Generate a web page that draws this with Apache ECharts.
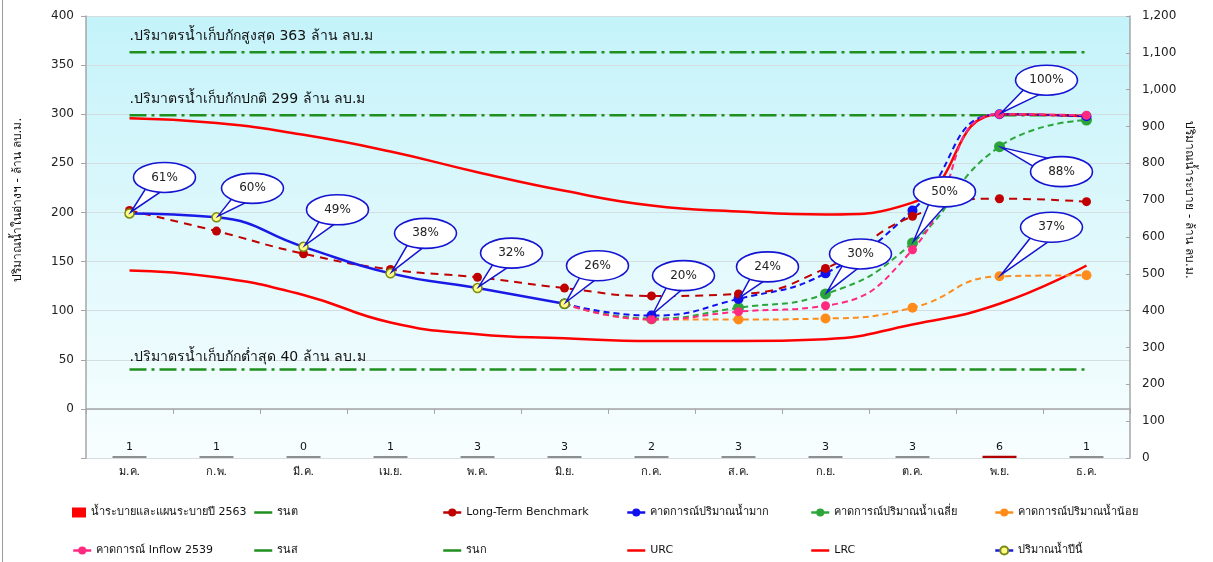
<!DOCTYPE html>
<html><head><meta charset="utf-8">
<script src="https://cdn.jsdelivr.net/npm/echarts@6/dist/echarts.min.js"></script>
<style>html,body{margin:0;padding:0;background:#fff}#c{width:1213px;height:562px}</style>
</head><body><div id="c"></div>
<script>
// ---- data ----
const months = ['ม.ค.','ก.พ.','มี.ค.','เม.ย.','พ.ค.','มิ.ย.','ก.ค.','ส.ค.','ก.ย.','ต.ค.','พ.ย.','ธ.ค.'];
const release2563 = [1,1,0,1,3,3,2,3,3,3,6,1];
const currentYear = [199,195,165,138,123,107,null,null,null,null,null,null];
const longTermBenchmark = [202,181,158,142,134,123,115,117,143,196,214,211];
const forecastHigh = [null,null,null,null,null,107,95,112,138,202,300,298];
const forecastAvg = [null,null,null,null,null,107,92,103,117,169,267,294];
const forecastLow = [null,null,null,null,null,107,91,91,92,103,135,136];
const inflow2539 = [null,null,null,null,null,107,91,99,105,162,300,299];
const urc = [296,291,279,262,241,222,207,201,198,210,300,298];
const lrc = [141,134,116,88,76,72,69,69,71,86,107,146];
const maxStorage = 363, normalStorage = 299, minStorage = 40;
const maxStorageText = '.ปริมาตรน้ำเก็บกักสูงสุด 363 ล้าน ลบ.ม';
const normalStorageText = '.ปริมาตรน้ำเก็บกักปกติ 299 ล้าน ลบ.ม';
const minStorageText = '.ปริมาตรน้ำเก็บกักต่ำสุด 40 ล้าน ลบ.ม';
const calloutLabels = ['61%','60%','49%','38%','32%','26%','20%','24%','30%','50%','100%','88%','37%'];
const calloutMonths = [0,1,2,3,4,5,6,7,8,9,10,10,10];
const calloutSource = ['current','current','current','current','current','current','high','high','avg','avg','high','avg','low'];

// ---- layout (not data) ----
const calloutOffsets = [[35,-36],[36,-29],[34,-37],[35,-40],[34,-35],[33,-38],[32,-40],[29,-32],[35,-40],[32,-51],[47,-34],[62,25],[52,-49]];
const legendRows = [
  ['น้ำระบายและแผนระบายปี 2563', 'รนต', 'Long-Term Benchmark', 'คาดการณ์ปริมาณน้ำมาก', 'คาดการณ์ปริมาณน้ำเฉลี่ย', 'คาดการณ์ปริมาณน้ำน้อย'],
  ['คาดการณ์ Inflow 2539', 'รนส', 'รนก', 'URC', 'LRC', 'ปริมาณน้ำปีนี้']
];
const legendCols = [67, 248, 437, 621, 805, 989];
const legendTops = [502, 540];

const FONT = 'Tahoma, Verdana, "DejaVu Sans", "Noto Sans", sans-serif';
const srcMap = {current: currentYear, high: forecastHigh, avg: forecastAvg, low: forecastLow};
const calloutData = calloutMonths.map((m, i) => [m, srcMap[calloutSource[i]][m]]);
const flat = v => months.map(() => v);
const CLEAR = 'rgba(0,0,0,0)';

const chart = echarts.init(document.getElementById('c'));

function refLine(name, value, text, dist) {
  return {
    name, type: 'line', yAxisIndex: 0, data: flat(value), symbol: 'circle', symbolSize: 1, showSymbol: true, z: 2,
    lineStyle: {color: '#1f8f1f', width: 2.5, type: [17, 5, 3, 5]},
    itemStyle: {color: CLEAR},
    label: {show: true, position: 'top', align: 'left', distance: dist, color: '#111', fontSize: 14, fontFamily: FONT,
      formatter: p => p.dataIndex === 0 ? text : ''},
    emphasis: {disabled: true}, labelLayout: {hideOverlap: false}
  };
}
function fcLine(name, data, color, size, z) {
  return {
    name, type: 'line', yAxisIndex: 0, data, smooth: true, symbol: 'circle', symbolSize: size, z,
    lineStyle: {color, width: 2, type: [6, 4]}, itemStyle: {color}
  };
}

const legends = [];
legendRows.forEach((row, r) => row.forEach((name, c) => {
  const isBar = r === 0 && c === 0;
  legends.push({
    left: legendCols[c], top: legendTops[r], data: [isBar ? {name, icon: 'rect'} : name],
    itemWidth: isBar ? 14 : 18, itemHeight: 10, itemGap: 4,
    textStyle: {color: '#111', fontSize: 11, fontFamily: FONT},
    lineStyle: {type: 'solid', width: 2.5}, selectedMode: false
  });
}));

const option = {
  animation: false,
  textStyle: {fontFamily: FONT},
  grid: {left: 86, right: 83, top: 16, bottom: 104, show: true, borderWidth: 0,
    backgroundColor: new echarts.graphic.LinearGradient(0, 0, 0, 1, [
      {offset: 0, color: '#c4f3fa'}, {offset: 0.55, color: '#e2f9fc'}, {offset: 1, color: '#f8feff'}])},
  xAxis: {type: 'category', data: months, boundaryGap: true,
    axisLine: {lineStyle: {color: '#a6a6a6', width: 1.5}},
    axisTick: {show: true, length: 5, lineStyle: {color: '#a6a6a6'}},
    axisLabel: {color: '#111', fontSize: 11, margin: 9, fontFamily: FONT}},
  yAxis: [
    {type: 'value', min: -50, max: 400, interval: 50, position: 'left',
      axisLine: {show: true, lineStyle: {color: '#a6a6a6', width: 1.5}},
      axisTick: {show: true, length: 5, lineStyle: {color: '#a6a6a6'}},
      axisLabel: {color: '#222', fontSize: 12, margin: 12, formatter: v => v < 0 ? '' : String(v)},
      splitLine: {show: true, lineStyle: {color: '#d4dde0', width: 1}}},
    {type: 'value', min: 0, max: 1200, interval: 100, position: 'right',
      axisLine: {show: true, lineStyle: {color: '#a6a6a6', width: 1.5}},
      axisTick: {show: true, inside: true, length: 4, lineStyle: {color: '#a6a6a6'}},
      axisLabel: {color: '#222', fontSize: 12, margin: 12, formatter: v => v.toLocaleString('en-US')},
      splitLine: {show: false}}
  ],
  legend: legends,
  graphic: [
    {type: 'text', x: 18, y: 200, rotation: Math.PI / 2,
      style: {text: 'ปริมาณน้ำในอ่างฯ - ล้าน ลบ.ม.', align: 'center', verticalAlign: 'middle', fill: '#111', font: '12px ' + FONT}},
    {type: 'text', x: 1189, y: 200, rotation: -Math.PI / 2,
      style: {text: 'ปริมาณน้ำระบาย - ล้าน ลบ.ม.', align: 'center', verticalAlign: 'middle', fill: '#111', font: '12px ' + FONT}},
    {type: 'line', shape: {x1: 2.5, y1: 0, x2: 2.5, y2: 562}, style: {stroke: '#9a9a9a', lineWidth: 1}}
  ],
  series: [
    {name: 'น้ำระบายและแผนระบายปี 2563', type: 'bar', yAxisIndex: 1, barWidth: 34, barMinHeight: 2, z: 1,
      itemStyle: {color: '#ff0000'},
      data: release2563.map((v, i) => ({value: v, itemStyle: {color: i === 10 ? '#b00000' : '#8f8f8f'}})),
      label: {show: true, position: 'top', distance: 3, color: '#111', fontSize: 11}},
    refLine('รนต', minStorage, minStorageText, 5),
    refLine('รนส', maxStorage, maxStorageText, 8),
    refLine('รนก', normalStorage, normalStorageText, 8),
    {name: 'URC', type: 'line', yAxisIndex: 0, data: urc, smooth: true, symbol: 'none', z: 3,
      lineStyle: {color: '#ff0000', width: 2.5}, itemStyle: {color: CLEAR}},
    {name: 'LRC', type: 'line', yAxisIndex: 0, data: lrc, smooth: true, symbol: 'none', z: 3,
      lineStyle: {color: '#ff0000', width: 2.5}, itemStyle: {color: CLEAR}},
    fcLine('คาดการณ์ปริมาณน้ำน้อย', forecastLow, '#ff8c1a', 10, 4),
    fcLine('คาดการณ์ปริมาณน้ำเฉลี่ย', forecastAvg, '#2ca63a', 11, 4),
    fcLine('คาดการณ์ปริมาณน้ำมาก', forecastHigh, '#1010ee', 10, 5),
    fcLine('คาดการณ์ Inflow 2539', inflow2539, '#ff2a80', 9, 5),
    {name: 'Long-Term Benchmark', type: 'line', yAxisIndex: 0, data: longTermBenchmark, smooth: true,
      symbol: 'circle', symbolSize: 9, z: 6,
      lineStyle: {color: '#c00000', width: 2, type: [8, 6]}, itemStyle: {color: '#c00000'}},
    {name: 'ปริมาณน้ำปีนี้', type: 'line', yAxisIndex: 0, data: currentYear, smooth: true,
      symbol: 'circle', symbolSize: 9, z: 7,
      lineStyle: {color: '#1a1ae6', width: 2.5},
      itemStyle: {color: '#ffff88', borderColor: '#7c8a10', borderWidth: 1.5}},
    {name: 'callouts', type: 'custom', yAxisIndex: 0, data: calloutData, z: 10, clip: false,
      encode: {x: 0, y: 1},
      renderItem: (params, api) => {
        const i = params.dataIndex;
        const p = api.coord([api.value(0), api.value(1)]);
        const off = calloutOffsets[i];
        const cx = p[0] + off[0], cy = p[1] + off[1];
        const dx = p[0] - cx, dy = p[1] - cy, len = Math.hypot(dx, dy);
        const ux = dx / len, uy = dy / len, px = -uy, py = ux, w = 10;
        const stroke = '#1414d2';
        return {type: 'group', children: [
          {type: 'polygon', shape: {points: [[p[0] - ux * 2, p[1] - uy * 2], [cx + px * w, cy + py * w], [cx - px * w, cy - py * w]]},
            style: {fill: '#fff', stroke, lineWidth: 1.5}},
          {type: 'ellipse', shape: {cx, cy, rx: 31, ry: 15}, style: {fill: '#fff', stroke, lineWidth: 1.6}},
          {type: 'text', style: {text: calloutLabels[i], x: cx, y: cy, align: 'center', verticalAlign: 'middle',
            fill: '#222', font: '12px ' + FONT}}
        ]};
      }}
  ]
};
chart.setOption(option);
</script></body></html>
